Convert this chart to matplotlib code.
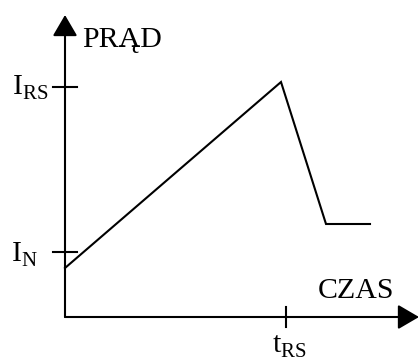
import matplotlib.pyplot as plt

plt.rcParams['font.family'] = 'Liberation Serif'
plt.rcParams['mathtext.fontset'] = 'custom'
plt.rcParams['mathtext.rm'] = 'Liberation Serif'

# current vs time (arbitrary units, origin at axis crossing)
czas = [0, 216, 261, 305]
prad = [49, 235, 93, 93]
i_n = 65
i_rs = 230
t_rs = 221

fig = plt.figure(figsize=(4.19, 3.6), dpi=100)
ax = fig.add_axes([0, 0, 1, 1])
ax.set_xlim(-65, 354)
ax.set_ylim(-43, 317)
ax.axis('off')

arrow = dict(arrowstyle='-|>,head_length=0.65,head_width=0.38', mutation_scale=20,
             lw=1.5, color='black', shrinkA=0, shrinkB=0)
ax.annotate('', xy=(0, 302), xytext=(0, 0), arrowprops=arrow)
ax.annotate('', xy=(354, 0), xytext=(0, 0), arrowprops=arrow)

ax.plot(czas, prad, color='black', lw=1.5, solid_joinstyle='miter')

# ticks
for v in [i_n, i_rs]:
    ax.plot([-12, 12], [v, v], color='black', lw=1.5)
ax.plot([t_rs, t_rs], [-10, 10], color='black', lw=1.5)

ax.text(17, 270, 'PRĄD', fontsize=21.5, va='baseline', ha='left')
ax.text(253, 19, 'CZAS', fontsize=21.5, va='baseline', ha='left')
ax.text(-17, 222, r'$\mathrm{I}_{\mathrm{RS}}$', fontsize=21.5, va='baseline', ha='right')
ax.text(-27, 55, r'$\mathrm{I}_{\mathrm{N}}$', fontsize=21.5, va='baseline', ha='right')
ax.text(207, -36, r'$\mathrm{t}_{\mathrm{RS}}$', fontsize=21.5, va='baseline', ha='left')

fig.savefig('out.png')
